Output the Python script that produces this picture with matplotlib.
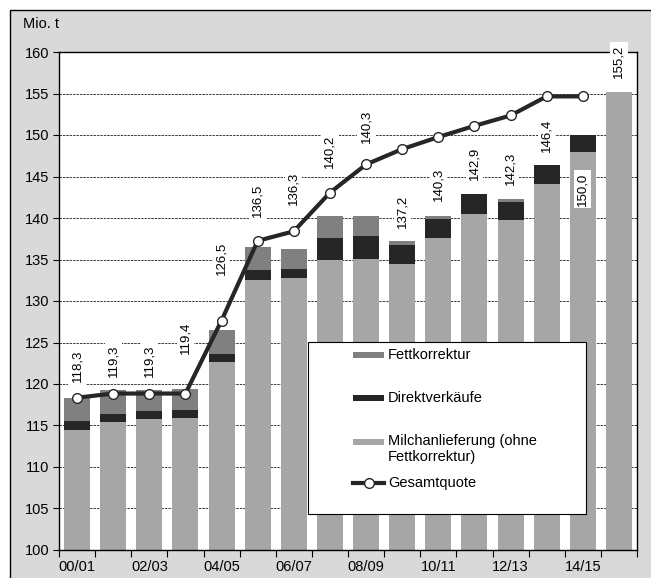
import numpy as np
import matplotlib
matplotlib.use("Agg")
import matplotlib.pyplot as plt
from matplotlib.patches import Rectangle
from matplotlib.lines import Line2D

plt.rcParams['font.family'] = ['Liberation Sans', 'DejaVu Sans']

# Marketing years
categories = ['00/01', '01/02', '02/03', '03/04', '04/05', '05/06', '06/07', '07/08',
              '08/09', '09/10', '10/11', '11/12', '12/13', '13/14', '14/15', '15/16']

# Components (Mio. t)
milchanlieferung = [114.5, 115.4, 115.8, 115.9, 122.6, 132.5, 132.8, 135.0,
                    135.1, 134.4, 137.6, 140.5, 139.7, 144.1, 148.0, 155.2]
direktverkaeufe = [1.0, 1.0, 1.0, 1.0, 1.0, 1.2, 1.1, 2.6,
                   2.7, 2.4, 2.3, 2.4, 2.2, 2.3, 2.0, 0.0]
fettkorrektur = [2.8, 2.9, 2.5, 2.5, 2.9, 2.8, 2.4, 2.6,
                 2.5, 0.4, 0.4, 0.0, 0.4, 0.0, 0.0, 0.0]

# Total quota (one value per year up to 14/15)
gesamtquote = [118.35, 118.85, 118.85, 118.85, 127.65, 137.25, 138.4, 143.05,
               146.45, 148.3, 149.75, 151.1, 152.35, 154.65, 154.65]

# Vertical centre of each total label
label_pos = [122.2, 122.8, 122.8, 125.6, 135.1, 142.1, 143.6, 148.0,
             151.0, 140.8, 144.1, 146.6, 146.0, 150.0, 143.5, 158.9]

W, H = 651, 578
fig = plt.figure(figsize=(W / 100, H / 100), dpi=100, facecolor='white')


def fx(x):
    return x / W


def fy(y):
    return 1 - y / H


# Grey chart area with a black frame line on the left and top
fig.patches.append(Rectangle((fx(10), -0.1), 1.2, fy(10) + 0.1, transform=fig.transFigure,
                             facecolor='#d9d9d9', edgecolor='black', linewidth=1.0, zorder=-10))

ax = fig.add_axes([fx(59), fy(550), (637 - 59) / W, (550 - 52) / H])
ax.set_facecolor('white')

x = np.arange(len(categories))
milch = np.array(milchanlieferung)
direkt = np.array(direktverkaeufe)
fett = np.array(fettkorrektur)
totals = milch + direkt + fett

c_milch, c_direkt, c_fett, c_line = '#a6a6a6', '#262626', '#808080', '#262626'
bw = 0.72
ax.bar(x, milch, bw, bottom=0, color=c_milch, zorder=2)
ax.bar(x, direkt, bw, bottom=milch, color=c_direkt, zorder=2)
ax.bar(x, fett, bw, bottom=milch + direkt, color=c_fett, zorder=2)

xq = np.arange(len(gesamtquote))
ax.plot(xq, gesamtquote, color=c_line, lw=3, marker='o', markersize=7,
        markerfacecolor='white', markeredgecolor=c_line, markeredgewidth=1, zorder=4)

for xi, tot, ly in zip(x, totals, label_pos):
    ax.text(xi, ly, f"{tot:.1f}".replace('.', ','), rotation=90, ha='center', va='center',
            fontsize=9.5, color='black', zorder=5, clip_on=False,
            bbox=dict(boxstyle='square,pad=0.2', facecolor='white', edgecolor='none'))

ax.set_xlim(-0.5, len(categories) - 0.5)
ax.set_ylim(100, 160)
ax.set_yticks(np.arange(100, 161, 5))
ax.tick_params(axis='y', direction='out', length=4, width=0.8, pad=3, labelsize=10.5)

ax.set_xticks(x[::2])
ax.set_xticklabels(categories[::2], fontsize=10.5)
ax.set_xticks(np.arange(-0.5, len(categories), 1), minor=True)
ax.tick_params(axis='x', which='major', length=0, pad=7)
ax.tick_params(axis='x', which='minor', direction='out', length=5, width=0.8)

for s in ax.spines.values():
    s.set_linewidth(1.0)
    s.set_color('black')

ax.set_axisbelow(True)
ax.yaxis.grid(True, color='#3a3a3a', linestyle=(0, (2.5, 1)), linewidth=0.7, zorder=0)
ax.xaxis.grid(False)

fig.text(fx(23), fy(24), 'Mio. t', fontsize=10.5, ha='left', va='center')

# Legend box
fig.patches.append(Rectangle((fx(308), fy(514)), (586 - 308) / W, (514 - 342) / H,
                             transform=fig.transFigure, facecolor='white', edgecolor='black',
                             linewidth=0.8, zorder=10))
entries = [(c_fett, 355, 'Fettkorrektur'),
           (c_direkt, 398, 'Direktverkäufe'),
           (c_milch, 442, 'Milchanlieferung (ohne\nFettkorrektur)')]
for col, yy, lab in entries:
    fig.patches.append(Rectangle((fx(353), fy(yy + 3)), 31 / W, 6 / H, transform=fig.transFigure,
                                 facecolor=col, edgecolor='none', zorder=11))
    if '\n' in lab:
        fig.text(fx(388), fy(yy - 8), lab, fontsize=10.5, ha='left', va='top',
                 zorder=11, linespacing=1.2)
    else:
        fig.text(fx(388), fy(yy), lab, fontsize=10.5, ha='left', va='center', zorder=11)

fig.lines.append(Line2D([fx(353), fx(384)], [fy(483), fy(483)], transform=fig.transFigure,
                        color=c_line, lw=3, zorder=11))
fig.lines.append(Line2D([fx(368.5)], [fy(483)], transform=fig.transFigure, marker='o',
                        markersize=7, markerfacecolor='white', markeredgecolor=c_line,
                        markeredgewidth=1, zorder=12))
fig.text(fx(388), fy(483), 'Gesamtquote', fontsize=10.5, ha='left', va='center', zorder=11)

fig.savefig('out.png', dpi=100, facecolor='white')
